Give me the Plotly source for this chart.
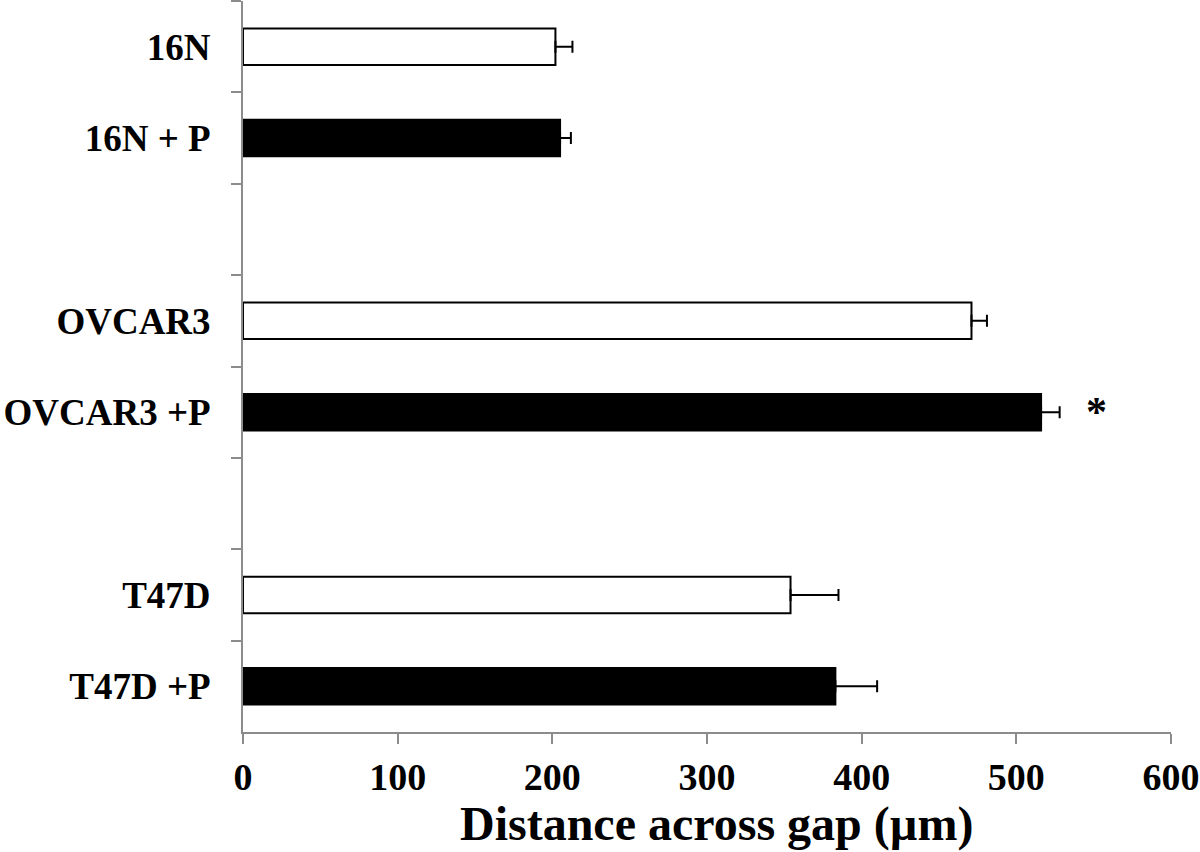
import plotly.graph_objects as go

# data
groups = [["16N", "16N + P"], ["OVCAR3", "OVCAR3 +P"], ["T47D", "T47D +P"]]
means = [202, 205, 471, 516, 354, 383]
errors = [11, 7, 10, 12, 31, 27]
treated = [False, True, False, True, False, True]
x_ticks = [0, 100, 200, 300, 400, 500, 600]
x_title = "Distance across gap (µm)"
sig_label = "OVCAR3 +P"
sig_x = 552

labels = [c for g in groups for c in g]
spacers = [" ", "  "]
cat_order = []
for i, g in enumerate(groups):
    cat_order += g
    if i < len(spacers):
        cat_order.append(spacers[i])

colors = ["black" if t else "white" for t in treated]

fig = go.Figure()
fig.add_trace(go.Bar(
    y=labels, x=means, orientation="h",
    marker=dict(color=colors, line=dict(color="black", width=2)),
    width=0.4,
    error_x=dict(type="data", symmetric=False, array=errors,
                 arrayminus=[0] * len(errors), color="black",
                 thickness=2, width=6),
    showlegend=False,
))

font = "Liberation Serif"
fig.add_annotation(x=sig_x, y=sig_label, text="<b>*</b>", showarrow=False,
                   font=dict(family=font, size=42, color="black"), yshift=0)
fig.add_annotation(x=0.5097, y=-0.126, xref="paper", yref="paper",
                   xanchor="center", yanchor="middle", showarrow=False,
                   text="<b>" + x_title + "</b>",
                   font=dict(family=font, size=48, color="black"))

fig.update_layout(
    width=1200, height=852,
    margin=dict(l=243, r=29, t=1, b=120, autoexpand=False),
    paper_bgcolor="white", plot_bgcolor="white",
    xaxis=dict(range=[0, 600], tickvals=x_ticks, showgrid=False, zeroline=False,
               showline=True, linecolor="#8c8c8c", linewidth=2, automargin=False,
               ticks="outside", ticklen=10, tickwidth=2, tickcolor="#8c8c8c",
               tickfont=dict(family=font, size=38, color="black", weight="bold")),
    yaxis=dict(type="category", categoryorder="array", categoryarray=cat_order,
               range=[len(cat_order) - 0.5, -0.5], showgrid=False, zeroline=False,
               showline=True, linecolor="#8c8c8c", linewidth=2, automargin=False,
               ticks="outside", tickson="boundaries", ticklen=10, tickwidth=2,
               tickcolor="#8c8c8c", ticklabelstandoff=23,
               tickfont=dict(family=font, size=37, color="black", weight="bold")),
)

fig.write_html("out.html", config={"displayModeBar": False},
               post_script="document.body.style.margin='0';document.body.style.overflow='hidden';")
